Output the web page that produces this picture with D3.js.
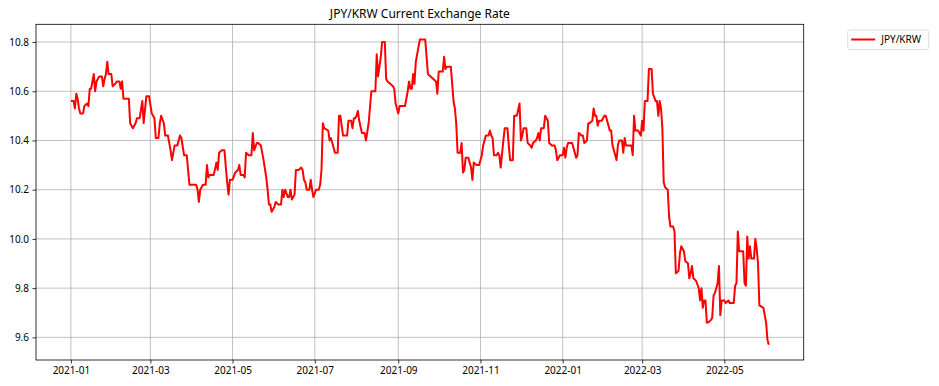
<!DOCTYPE html>
<meta charset="utf-8">
<title>JPY/KRW Current Exchange Rate</title>
<style>

body {
  margin: 0;
  background-color: white;
}

text {
  font-family: "Noto Sans", sans-serif;
  fill: black;
}

.grid line {
  stroke: #b0b0b0;
  stroke-width: .8px;
}

.axis path,
.axis line {
  stroke: black;
  stroke-width: .8px;
}

.line {
  fill: none;
  stroke: red;
  stroke-width: 2px;
  stroke-linejoin: round;
}

</style>
<body>
<script src="https://cdn.jsdelivr.net/npm/d3@7"></script>
<script>

var chartTitle = "JPY/KRW Current Exchange Rate",
    seriesName = "JPY/KRW";

var dates = [
  "2021-01-01","2021-01-03","2021-01-04","2021-01-05","2021-01-06","2021-01-07","2021-01-08","2021-01-10","2021-01-11","2021-01-13","2021-01-14","2021-01-15","2021-01-16","2021-01-18","2021-01-19","2021-01-20","2021-01-22","2021-01-24","2021-01-25","2021-01-26","2021-01-27","2021-01-28","2021-01-29","2021-01-31",
  "2021-02-01","2021-02-03","2021-02-04","2021-02-06","2021-02-07","2021-02-08","2021-02-09","2021-02-13","2021-02-14","2021-02-16","2021-02-18","2021-02-19","2021-02-21","2021-02-23","2021-02-24","2021-02-26","2021-02-28",
  "2021-03-02","2021-03-04","2021-03-05","2021-03-07","2021-03-08","2021-03-09","2021-03-11","2021-03-12","2021-03-14","2021-03-16","2021-03-17","2021-03-19","2021-03-21","2021-03-23","2021-03-24","2021-03-26","2021-03-28","2021-03-30",
  "2021-04-02","2021-04-04","2021-04-05","2021-04-06","2021-04-07","2021-04-09","2021-04-11","2021-04-12","2021-04-13","2021-04-14","2021-04-16","2021-04-17","2021-04-19","2021-04-20","2021-04-21","2021-04-23","2021-04-25","2021-04-26","2021-04-27","2021-04-28","2021-04-29",
  "2021-05-01","2021-05-03","2021-05-05","2021-05-06","2021-05-07","2021-05-09","2021-05-10","2021-05-11","2021-05-13","2021-05-14","2021-05-15","2021-05-16","2021-05-17","2021-05-19","2021-05-20","2021-05-22","2021-05-24","2021-05-26","2021-05-27","2021-05-28","2021-05-29","2021-05-30",
  "2021-06-01","2021-06-02","2021-06-04","2021-06-06","2021-06-07","2021-06-08","2021-06-09","2021-06-11","2021-06-12","2021-06-13","2021-06-14","2021-06-16","2021-06-17","2021-06-19","2021-06-21","2021-06-22","2021-06-23","2021-06-24","2021-06-25","2021-06-27","2021-06-28","2021-06-29","2021-06-30",
  "2021-07-02","2021-07-04","2021-07-05","2021-07-06","2021-07-07","2021-07-08","2021-07-11","2021-07-12","2021-07-13","2021-07-14","2021-07-16","2021-07-18","2021-07-19","2021-07-20","2021-07-22","2021-07-25","2021-07-26","2021-07-28","2021-07-29","2021-07-30","2021-07-31",
  "2021-08-01","2021-08-02","2021-08-03","2021-08-05","2021-08-07","2021-08-08","2021-08-10","2021-08-12","2021-08-14","2021-08-15","2021-08-16","2021-08-17","2021-08-19","2021-08-20","2021-08-22","2021-08-23","2021-08-24","2021-08-26","2021-08-28","2021-08-29","2021-08-30",
  "2021-09-01","2021-09-02","2021-09-04","2021-09-06","2021-09-08","2021-09-09","2021-09-10","2021-09-11","2021-09-12","2021-09-13","2021-09-14","2021-09-16","2021-09-17","2021-09-21","2021-09-23","2021-09-25","2021-09-27","2021-09-29","2021-09-30",
  "2021-10-01","2021-10-04","2021-10-05","2021-10-06","2021-10-07","2021-10-10","2021-10-12","2021-10-13","2021-10-14","2021-10-15","2021-10-17","2021-10-18","2021-10-19","2021-10-20","2021-10-21","2021-10-23","2021-10-25","2021-10-26","2021-10-27","2021-10-29","2021-10-31",
  "2021-11-02","2021-11-03","2021-11-05","2021-11-07","2021-11-08","2021-11-09","2021-11-10","2021-11-11","2021-11-13","2021-11-14","2021-11-15","2021-11-16","2021-11-18","2021-11-19","2021-11-21","2021-11-22","2021-11-23","2021-11-25","2021-11-26","2021-11-28","2021-11-30",
  "2021-12-01","2021-12-02","2021-12-03","2021-12-05","2021-12-06","2021-12-08","2021-12-09","2021-12-10","2021-12-12","2021-12-13","2021-12-14","2021-12-15","2021-12-16","2021-12-18","2021-12-19","2021-12-21","2021-12-22","2021-12-24","2021-12-26","2021-12-27","2021-12-28","2021-12-30",
  "2022-01-01","2022-01-02","2022-01-03","2022-01-04","2022-01-05","2022-01-08","2022-01-09","2022-01-11","2022-01-12","2022-01-13","2022-01-15","2022-01-16","2022-01-17","2022-01-19","2022-01-20","2022-01-21","2022-01-23","2022-01-24","2022-01-25","2022-01-26","2022-01-27","2022-01-28","2022-01-30",
  "2022-02-01","2022-02-02","2022-02-03","2022-02-05","2022-02-06","2022-02-07","2022-02-09","2022-02-10","2022-02-11","2022-02-12","2022-02-14","2022-02-15","2022-02-16","2022-02-17","2022-02-18","2022-02-21","2022-02-22","2022-02-23","2022-02-24","2022-02-26","2022-02-27","2022-02-28",
  "2022-03-01","2022-03-02","2022-03-03","2022-03-04","2022-03-05","2022-03-06","2022-03-08","2022-03-09","2022-03-11","2022-03-12","2022-03-13","2022-03-14","2022-03-15","2022-03-16","2022-03-17","2022-03-18","2022-03-20","2022-03-21","2022-03-22","2022-03-24","2022-03-25","2022-03-26","2022-03-28","2022-03-29","2022-03-30",
  "2022-04-01","2022-04-02","2022-04-04","2022-04-05","2022-04-06","2022-04-07","2022-04-08","2022-04-10","2022-04-12","2022-04-13","2022-04-14","2022-04-15","2022-04-16","2022-04-17","2022-04-18","2022-04-19","2022-04-21","2022-04-22","2022-04-23","2022-04-24","2022-04-26","2022-04-27","2022-04-28","2022-04-29",
  "2022-05-01","2022-05-02","2022-05-04","2022-05-05","2022-05-06","2022-05-08","2022-05-09","2022-05-10","2022-05-11","2022-05-12","2022-05-14","2022-05-15","2022-05-16","2022-05-17","2022-05-18","2022-05-19","2022-05-20","2022-05-21","2022-05-23","2022-05-24","2022-05-25","2022-05-26","2022-05-27","2022-05-30","2022-05-31",
  "2022-06-01","2022-06-02","2022-06-03"
];

var rates = [
  10.56,10.56,10.53,10.59,10.57,10.53,10.51,10.51,10.54,10.55,10.54,10.61,10.61,10.67,10.60,10.64,10.66,10.66,10.62,10.65,10.67,10.72,10.67,10.67,
  10.62,10.63,10.64,10.64,10.61,10.64,10.57,10.57,10.47,10.45,10.47,10.49,10.49,10.56,10.47,10.58,10.58,
  10.51,10.49,10.41,10.41,10.47,10.50,10.47,10.42,10.42,10.36,10.32,10.38,10.38,10.42,10.41,10.34,10.34,10.22,
  10.22,10.22,10.20,10.15,10.20,10.22,10.22,10.30,10.25,10.26,10.26,10.26,10.31,10.28,10.35,10.36,10.36,10.29,10.23,10.18,10.24,
  10.24,10.27,10.28,10.30,10.26,10.26,10.25,10.35,10.34,10.34,10.34,10.43,10.36,10.39,10.39,10.38,10.32,10.25,10.20,10.14,10.14,10.11,
  10.13,10.15,10.14,10.14,10.20,10.17,10.20,10.17,10.17,10.20,10.16,10.18,10.28,10.28,10.29,10.28,10.24,10.23,10.20,10.20,10.24,10.20,10.17,
  10.20,10.20,10.22,10.28,10.47,10.45,10.44,10.40,10.41,10.39,10.35,10.35,10.50,10.50,10.42,10.42,10.48,10.48,10.45,10.49,10.49,
  10.50,10.52,10.48,10.43,10.43,10.40,10.47,10.60,10.60,10.60,10.75,10.66,10.74,10.80,10.80,10.65,10.64,10.63,10.62,10.61,10.55,
  10.51,10.54,10.54,10.54,10.60,10.64,10.61,10.61,10.67,10.63,10.72,10.78,10.81,10.81,10.67,10.66,10.65,10.64,10.59,
  10.68,10.68,10.74,10.69,10.70,10.70,10.56,10.53,10.47,10.35,10.35,10.39,10.27,10.28,10.33,10.33,10.29,10.24,10.31,10.30,10.30,
  10.34,10.38,10.42,10.42,10.44,10.42,10.41,10.34,10.34,10.35,10.34,10.29,10.40,10.45,10.45,10.38,10.32,10.32,10.50,10.50,10.55,
  10.40,10.42,10.45,10.45,10.39,10.38,10.37,10.39,10.40,10.41,10.43,10.40,10.45,10.45,10.50,10.48,10.39,10.38,10.38,10.36,10.32,10.34,
  10.34,10.37,10.33,10.37,10.39,10.39,10.37,10.33,10.34,10.43,10.42,10.42,10.39,10.40,10.47,10.47,10.48,10.53,10.50,10.50,10.46,10.48,10.48,
  10.50,10.50,10.48,10.44,10.44,10.38,10.34,10.32,10.38,10.40,10.40,10.35,10.41,10.38,10.38,10.38,10.34,10.50,10.44,10.44,10.43,10.42,
  10.48,10.44,10.56,10.56,10.56,10.69,10.69,10.59,10.56,10.56,10.50,10.56,10.53,10.45,10.23,10.21,10.20,10.09,10.05,10.05,10.03,9.86,9.87,9.94,9.97,
  9.95,9.91,9.90,9.84,9.86,9.89,9.84,9.83,9.80,9.75,9.80,9.72,9.75,9.75,9.66,9.66,9.67,9.68,9.77,9.78,9.82,9.89,9.69,9.75,
  9.75,9.74,9.75,9.74,9.74,9.74,9.81,9.82,10.03,9.95,9.95,9.95,9.82,9.81,10.01,9.92,9.97,9.92,9.92,10.00,9.96,9.90,9.73,9.72,9.69,
  9.66,9.59,9.57
];

var xTicks = ["2021-01", "2021-03", "2021-05", "2021-07", "2021-09", "2021-11", "2022-01", "2022-03", "2022-05"];
var yTicks = [9.6, 9.8, 10.0, 10.2, 10.4, 10.6, 10.8];

var width = 939,
    height = 386,
    margin = {top: 24.3, right: 135.3, bottom: 26, left: 36},
    w = width - margin.left - margin.right,
    h = height - margin.top - margin.bottom;

var parse = d3.utcParse("%Y-%m-%d"),
    parseMonth = d3.utcParse("%Y-%m");

var data = dates.map(function(d, i) { return {date: parse(d), rate: rates[i]}; });

// matplotlib-style 5% margins around the data
var xExt = d3.extent(data, function(d) { return d.date; }),
    xPad = (xExt[1] - xExt[0]) * 0.05,
    yExt = d3.extent(data, function(d) { return d.rate; }),
    yPad = (yExt[1] - yExt[0]) * 0.05;

var x = d3.scaleUtc()
    .domain([new Date(+xExt[0] - xPad), new Date(+xExt[1] + xPad)])
    .range([0, w]);

var y = d3.scaleLinear()
    .domain([yExt[0] - yPad, yExt[1] + yPad])
    .range([h, 0]);

var svg = d3.select("body").append("svg")
    .attr("width", width)
    .attr("height", height);

svg.append("text")
    .attr("x", margin.left + w / 2)
    .attr("y", 18)
    .attr("text-anchor", "middle")
    .style("font-size", "12px")
    .text(chartTitle);

var g = svg.append("g")
    .attr("transform", "translate(" + margin.left + "," + margin.top + ")");

var xTickDates = xTicks.map(parseMonth);

g.append("g")
    .attr("class", "grid")
  .selectAll("line")
    .data(xTickDates)
  .enter().append("line")
    .attr("x1", x).attr("x2", x)
    .attr("y1", 0).attr("y2", h);

g.append("g")
    .attr("class", "grid")
  .selectAll("line")
    .data(yTicks)
  .enter().append("line")
    .attr("y1", y).attr("y2", y)
    .attr("x1", 0).attr("x2", w);

g.append("path")
    .datum(data)
    .attr("class", "line")
    .attr("d", d3.line()
        .x(function(d) { return x(d.date); })
        .y(function(d) { return y(d.rate); }));

g.append("rect")
    .attr("width", w)
    .attr("height", h)
    .style("fill", "none")
    .style("stroke", "black")
    .style("stroke-width", ".8px");

var xAxis = g.append("g")
    .attr("class", "axis")
    .attr("transform", "translate(0," + h + ")")
    .call(d3.axisBottom(x)
        .tickValues(xTickDates)
        .tickFormat(d3.utcFormat("%Y-%m"))
        .tickSize(3.5)
        .tickPadding(3.5));

var yAxis = g.append("g")
    .attr("class", "axis")
    .call(d3.axisLeft(y)
        .tickValues(yTicks)
        .tickFormat(d3.format(".1f"))
        .tickSize(3.5)
        .tickPadding(3.5));

svg.selectAll(".axis .domain").remove();
svg.selectAll(".axis text")
    .style("font-size", "10px")
    .style("font-family", "\"Noto Sans\", sans-serif");

// legend, outside the axes on the upper right
var legend = svg.append("g")
    .attr("transform", "translate(" + (margin.left + w + 44) + "," + 30 + ")");

legend.append("rect")
    .attr("width", 81)
    .attr("height", 19.5)
    .attr("rx", 2.5)
    .style("fill", "white")
    .style("stroke", "#d6d6d6")
    .style("stroke-width", ".8px");

legend.append("line")
    .attr("x1", 3.5).attr("x2", 27.5)
    .attr("y1", 9.5).attr("y2", 9.5)
    .style("stroke", "red")
    .style("stroke-width", "2px");

legend.append("text")
    .attr("x", 33.5)
    .attr("y", 9.5)
    .attr("dy", "0.35em")
    .style("font-size", "10px")
    .text(seriesName);

</script>
